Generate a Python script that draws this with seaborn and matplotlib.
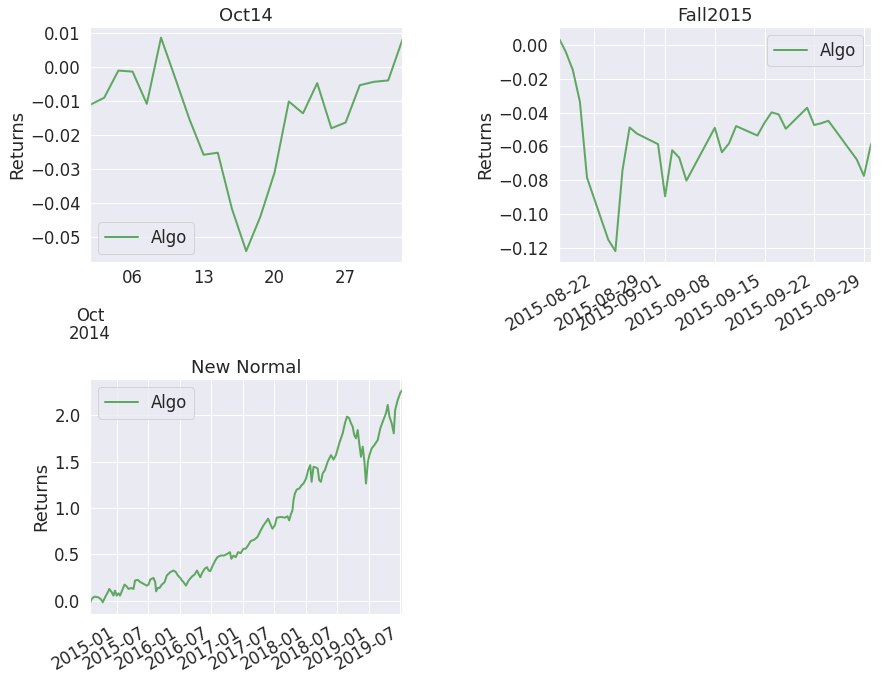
import numpy as np
import pandas as pd
import matplotlib
matplotlib.use("Agg")
import matplotlib.pyplot as plt
import matplotlib.ticker as mticker
import matplotlib.dates as mdates
import seaborn as sns

# --- Oct14 : cumulative returns per business day (Oct 1 .. Oct 31, 2014)
oct14_start = "2014-10-01"
oct14_end = "2014-10-31"
oct14_returns = [-0.0111, -0.0090, -0.0010, -0.0013, -0.0108, 0.0087, -0.0032,
                 -0.0153, -0.0258, -0.0252, -0.0418, -0.0542, -0.0440, -0.0310,
                 -0.0101, -0.0136, -0.0047, -0.0180, -0.0163, -0.0053, -0.0043,
                 -0.0039, 0.0081]

# --- Fall2015 : cumulative returns (Labor Day missing)
fall_dates = ["2015-08-17", "2015-08-18", "2015-08-19", "2015-08-20", "2015-08-21",
              "2015-08-24", "2015-08-25", "2015-08-26", "2015-08-27", "2015-08-28",
              "2015-08-31", "2015-09-01", "2015-09-02", "2015-09-03", "2015-09-04",
              "2015-09-08", "2015-09-09", "2015-09-10", "2015-09-11", "2015-09-14",
              "2015-09-15", "2015-09-16", "2015-09-17", "2015-09-18", "2015-09-21",
              "2015-09-22", "2015-09-23", "2015-09-24", "2015-09-25", "2015-09-28",
              "2015-09-29", "2015-09-30"]
fall_returns = [0.0043, -0.0040, -0.0148, -0.0336, -0.0785, -0.1153, -0.1220,
                -0.0741, -0.0488, -0.0524, -0.0587, -0.0896, -0.0623, -0.0668,
                -0.0803, -0.0490, -0.0635, -0.0583, -0.0480, -0.0536, -0.0461,
                -0.0399, -0.0411, -0.0496, -0.0372, -0.0474, -0.0463, -0.0449,
                -0.0506, -0.0678, -0.0775, -0.0587]

# --- New Normal : cumulative returns
nn_dates = [
    "2014-07-30", "2014-08-09", "2014-08-19", "2014-08-28", "2014-09-16",
    "2014-10-02", "2014-10-12", "2014-10-25", "2014-11-10", "2014-11-19",
    "2014-12-03", "2014-12-13", "2014-12-22", "2015-01-01", "2015-01-11",
    "2015-01-20", "2015-01-30", "2015-02-15", "2015-02-28", "2015-03-10",
    "2015-03-25", "2015-04-08", "2015-04-17", "2015-05-03", "2015-05-16",
    "2015-06-05", "2015-06-24", "2015-07-04", "2015-07-14", "2015-08-02",
    "2015-08-12", "2015-08-17", "2015-08-27", "2015-09-06", "2015-09-19",
    "2015-10-05", "2015-10-18", "2015-11-07", "2015-11-26", "2015-12-10",
    "2015-12-21", "2016-01-04", "2016-01-14", "2016-01-23", "2016-02-06",
    "2016-02-21", "2016-03-12", "2016-03-27", "2016-04-10", "2016-04-19",
    "2016-04-29", "2016-05-09", "2016-05-24", "2016-06-07", "2016-06-16",
    "2016-06-26", "2016-07-10", "2016-07-25", "2016-08-06", "2016-08-25",
    "2016-09-13", "2016-10-03", "2016-10-18", "2016-10-26", "2016-11-07",
    "2016-11-20", "2016-12-04", "2016-12-19", "2017-01-04", "2017-01-17",
    "2017-01-31", "2017-02-15", "2017-03-07", "2017-03-26", "2017-04-14",
    "2017-04-30", "2017-05-14", "2017-05-27", "2017-06-08", "2017-06-21",
    "2017-07-05", "2017-07-16", "2017-08-09", "2017-09-01", "2017-09-16",
    "2017-09-26", "2017-10-06", "2017-10-15", "2017-10-21", "2017-10-29",
    "2017-11-09", "2017-11-23", "2017-12-07", "2017-12-18", "2018-01-02",
    "2018-01-14", "2018-01-26", "2018-02-03", "2018-02-14", "2018-02-28",
    "2018-03-10", "2018-03-19", "2018-03-29", "2018-04-08", "2018-04-21",
    "2018-05-07", "2018-05-26", "2018-06-10", "2018-06-24", "2018-07-13",
    "2018-08-02", "2018-08-15", "2018-08-27", "2018-09-09", "2018-09-19",
    "2018-09-29", "2018-10-08", "2018-10-18", "2018-10-28", "2018-11-06",
    "2018-11-16", "2018-11-26", "2018-12-06", "2018-12-15", "2018-12-26",
    "2019-01-04", "2019-01-17", "2019-02-02", "2019-02-21", "2019-03-08",
    "2019-03-22", "2019-04-10", "2019-04-20", "2019-04-30", "2019-05-13",
    "2019-05-25", "2019-06-02", "2019-06-17", "2019-07-03", "2019-07-14",
]
nn_returns = [
    -0.029, 0.018, 0.036, 0.043, 0.036,
    0.014, -0.018, 0.036, 0.090, 0.126,
    0.090, 0.054, 0.108, 0.054, 0.079,
    0.054, 0.101, 0.173, 0.152, 0.126,
    0.137, 0.126, 0.217, 0.224, 0.202,
    0.181, 0.162, 0.173, 0.227, 0.245,
    0.199, 0.101, 0.137, 0.137, 0.173,
    0.199, 0.271, 0.307, 0.325, 0.307,
    0.271, 0.245, 0.217, 0.199, 0.162,
    0.217, 0.260, 0.282, 0.325, 0.289,
    0.253, 0.296, 0.343, 0.361, 0.325,
    0.318, 0.379, 0.433, 0.469, 0.487,
    0.487, 0.505, 0.523, 0.451, 0.487,
    0.469, 0.523, 0.513, 0.560, 0.560,
    0.596, 0.643, 0.657, 0.686, 0.758,
    0.812, 0.848, 0.884, 0.830, 0.776,
    0.812, 0.895, 0.903, 0.895, 0.910,
    0.866, 0.931, 0.975, 1.083, 1.155,
    1.199, 1.209, 1.245, 1.264, 1.318,
    1.408, 1.462, 1.282, 1.444, 1.437,
    1.426, 1.300, 1.282, 1.372, 1.408,
    1.498, 1.570, 1.523, 1.570, 1.697,
    1.805, 1.913, 1.986, 1.968, 1.913,
    1.877, 1.787, 1.751, 1.841, 1.697,
    1.552, 1.661, 1.498, 1.264, 1.498,
    1.570, 1.643, 1.679, 1.733, 1.859,
    1.931, 2.022, 2.112, 1.986, 1.913,
    1.805, 2.057, 2.166, 2.246, 2.274,
]

LINE_COLOR = "forestgreen"

sns.set_theme(style="darkgrid", context="notebook", font_scale=1.5)

fig = plt.figure(figsize=(883 / 72, 678 / 72), dpi=72)
gs = fig.add_gridspec(2, 2, left=90 / 883, right=871 / 883,
                      top=1 - 27 / 678, bottom=1 - 614 / 678,
                      wspace=0.5, hspace=0.5)

# Oct14 - business-day period axis (weekends compressed, like pandas)
ax1 = fig.add_subplot(gs[0, 0])
oct_idx = pd.bdate_range(oct14_start, oct14_end)
oct_x = np.array([p.ordinal for p in oct_idx.to_period("B")])
df_oct = pd.DataFrame({"x": oct_x, "ret": oct14_returns})
sns.lineplot(data=df_oct, x="x", y="ret", ax=ax1, color=LINE_COLOR,
             alpha=0.7, lw=2, label="Algo")
ax1.set_xlim(oct_x[0], oct_x[-1])
mondays = oct_idx.dayofweek == 0
ax1.xaxis.set_major_locator(mticker.FixedLocator([oct_x[0]]))
ax1.xaxis.set_major_formatter(mticker.FixedFormatter(
    ["\n\n" + oct_idx[0].strftime("%b\n%Y")]))
ax1.xaxis.set_minor_locator(mticker.FixedLocator(oct_x[mondays]))
ax1.xaxis.set_minor_formatter(mticker.FixedFormatter(
    [d.strftime("%d") for d in oct_idx[mondays]]))
ax1.tick_params(axis="x", which="minor", labelsize=16.5)
for t in ax1.xaxis.get_major_ticks():
    t.label1.set_linespacing(1.0)
ax1.set_title("Oct14")
ax1.set_xlabel("")
ax1.set_ylabel("Returns")
ax1.legend(loc="best")

# Fall2015
ax2 = fig.add_subplot(gs[0, 1])
df_fall = pd.DataFrame({"date": pd.to_datetime(fall_dates), "ret": fall_returns})
sns.lineplot(data=df_fall, x="date", y="ret", ax=ax2, color=LINE_COLOR,
             alpha=0.7, lw=2, label="Algo")
ax2.set_xlim(df_fall["date"].min(), df_fall["date"].max())
ax2.xaxis.set_major_locator(mdates.DayLocator(bymonthday=[1, 8, 15, 22, 29]))
ax2.xaxis.set_major_formatter(mdates.DateFormatter("%Y-%m-%d"))
ax2.set_title("Fall2015")
ax2.set_xlabel("")
ax2.set_ylabel("Returns")
ax2.legend(loc="best")
plt.setp(ax2.get_xticklabels(), rotation=30, ha="right")

# New Normal
ax3 = fig.add_subplot(gs[1, 0])
df_nn = pd.DataFrame({"date": pd.to_datetime(nn_dates), "ret": nn_returns})
sns.lineplot(data=df_nn, x="date", y="ret", ax=ax3, color=LINE_COLOR,
             alpha=0.7, lw=2, label="Algo")
ax3.set_xlim(df_nn["date"].min(), df_nn["date"].max())
ax3.set_title("New Normal")
ax3.set_xlabel("")
ax3.set_ylabel("Returns")
ax3.legend(loc="best")
plt.setp(ax3.get_xticklabels(), rotation=30, ha="right")

fig.savefig("out.png", dpi=72)
